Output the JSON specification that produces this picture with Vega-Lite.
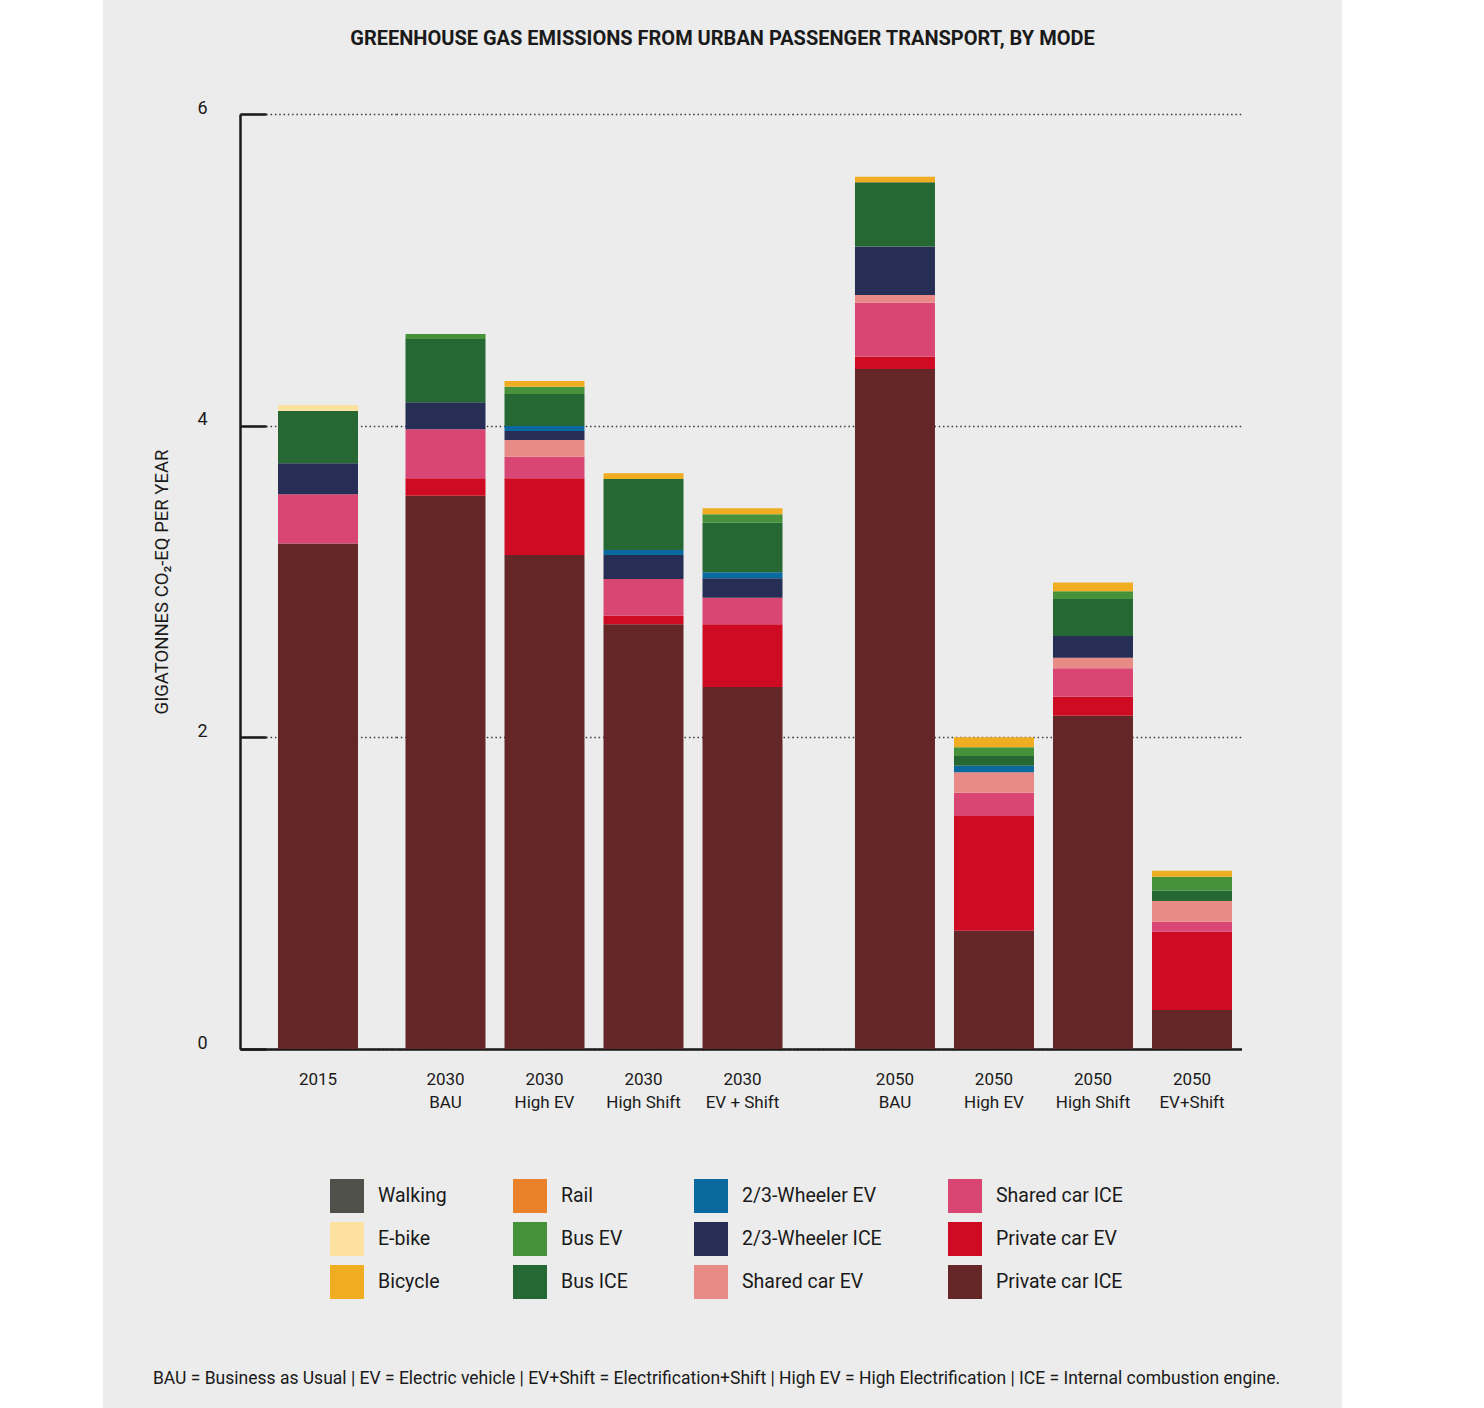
{
  "$schema": "https://vega.github.io/schema/vega-lite/v6.json",
  "background": "#ececec",
  "padding": 0,
  "spacing": 0,
  "columns": 5,
  "align": "none",
  "bounds": "full",
  "datasets": {
    "emissions": [
      {"period": "2015", "scenario": "2015", "mode": "Private car ICE", "value": 3.244},
      {"period": "2015", "scenario": "2015", "mode": "Shared car ICE", "value": 0.316},
      {"period": "2015", "scenario": "2015", "mode": "2/3-Wheeler ICE", "value": 0.199},
      {"period": "2015", "scenario": "2015", "mode": "Bus ICE", "value": 0.335},
      {"period": "2015", "scenario": "2015", "mode": "E-bike", "value": 0.039},

      {"period": "2030", "scenario": "2030|BAU", "mode": "Private car ICE", "value": 3.551},
      {"period": "2030", "scenario": "2030|BAU", "mode": "Private car EV", "value": 0.111},
      {"period": "2030", "scenario": "2030|BAU", "mode": "Shared car ICE", "value": 0.315},
      {"period": "2030", "scenario": "2030|BAU", "mode": "2/3-Wheeler ICE", "value": 0.173},
      {"period": "2030", "scenario": "2030|BAU", "mode": "Bus ICE", "value": 0.406},
      {"period": "2030", "scenario": "2030|BAU", "mode": "Bus EV", "value": 0.032},

      {"period": "2030", "scenario": "2030|High EV", "mode": "Private car ICE", "value": 3.170},
      {"period": "2030", "scenario": "2030|High EV", "mode": "Private car EV", "value": 0.492},
      {"period": "2030", "scenario": "2030|High EV", "mode": "Shared car ICE", "value": 0.139},
      {"period": "2030", "scenario": "2030|High EV", "mode": "Shared car EV", "value": 0.107},
      {"period": "2030", "scenario": "2030|High EV", "mode": "2/3-Wheeler ICE", "value": 0.058},
      {"period": "2030", "scenario": "2030|High EV", "mode": "2/3-Wheeler EV", "value": 0.032},
      {"period": "2030", "scenario": "2030|High EV", "mode": "Bus ICE", "value": 0.205},
      {"period": "2030", "scenario": "2030|High EV", "mode": "Bus EV", "value": 0.047},
      {"period": "2030", "scenario": "2030|High EV", "mode": "Bicycle", "value": 0.037},

      {"period": "2030", "scenario": "2030|High Shift", "mode": "Private car ICE", "value": 2.725},
      {"period": "2030", "scenario": "2030|High Shift", "mode": "Private car EV", "value": 0.056},
      {"period": "2030", "scenario": "2030|High Shift", "mode": "Shared car ICE", "value": 0.235},
      {"period": "2030", "scenario": "2030|High Shift", "mode": "2/3-Wheeler ICE", "value": 0.154},
      {"period": "2030", "scenario": "2030|High Shift", "mode": "2/3-Wheeler EV", "value": 0.032},
      {"period": "2030", "scenario": "2030|High Shift", "mode": "Bus ICE", "value": 0.456},
      {"period": "2030", "scenario": "2030|High Shift", "mode": "Bicycle", "value": 0.036},

      {"period": "2030", "scenario": "2030|EV + Shift", "mode": "Private car ICE", "value": 2.323},
      {"period": "2030", "scenario": "2030|EV + Shift", "mode": "Private car EV", "value": 0.402},
      {"period": "2030", "scenario": "2030|EV + Shift", "mode": "Shared car ICE", "value": 0.171},
      {"period": "2030", "scenario": "2030|EV + Shift", "mode": "2/3-Wheeler ICE", "value": 0.125},
      {"period": "2030", "scenario": "2030|EV + Shift", "mode": "2/3-Wheeler EV", "value": 0.038},
      {"period": "2030", "scenario": "2030|EV + Shift", "mode": "Bus ICE", "value": 0.318},
      {"period": "2030", "scenario": "2030|EV + Shift", "mode": "Bus EV", "value": 0.054},
      {"period": "2030", "scenario": "2030|EV + Shift", "mode": "Bicycle", "value": 0.039},

      {"period": "2050", "scenario": "2050|BAU", "mode": "Private car ICE", "value": 4.364},
      {"period": "2050", "scenario": "2050|BAU", "mode": "Private car EV", "value": 0.079},
      {"period": "2050", "scenario": "2050|BAU", "mode": "Shared car ICE", "value": 0.346},
      {"period": "2050", "scenario": "2050|BAU", "mode": "Shared car EV", "value": 0.050},
      {"period": "2050", "scenario": "2050|BAU", "mode": "2/3-Wheeler ICE", "value": 0.310},
      {"period": "2050", "scenario": "2050|BAU", "mode": "Bus ICE", "value": 0.413},
      {"period": "2050", "scenario": "2050|BAU", "mode": "Bicycle", "value": 0.036},

      {"period": "2050", "scenario": "2050|High EV", "mode": "Private car ICE", "value": 0.759},
      {"period": "2050", "scenario": "2050|High EV", "mode": "Private car EV", "value": 0.736},
      {"period": "2050", "scenario": "2050|High EV", "mode": "Shared car ICE", "value": 0.150},
      {"period": "2050", "scenario": "2050|High EV", "mode": "Shared car EV", "value": 0.131},
      {"period": "2050", "scenario": "2050|High EV", "mode": "2/3-Wheeler EV", "value": 0.042},
      {"period": "2050", "scenario": "2050|High EV", "mode": "Bus ICE", "value": 0.062},
      {"period": "2050", "scenario": "2050|High EV", "mode": "Bus EV", "value": 0.056},
      {"period": "2050", "scenario": "2050|High EV", "mode": "Bicycle", "value": 0.064},

      {"period": "2050", "scenario": "2050|High Shift", "mode": "Private car ICE", "value": 2.139},
      {"period": "2050", "scenario": "2050|High Shift", "mode": "Private car EV", "value": 0.122},
      {"period": "2050", "scenario": "2050|High Shift", "mode": "Shared car ICE", "value": 0.182},
      {"period": "2050", "scenario": "2050|High Shift", "mode": "Shared car EV", "value": 0.068},
      {"period": "2050", "scenario": "2050|High Shift", "mode": "2/3-Wheeler ICE", "value": 0.139},
      {"period": "2050", "scenario": "2050|High Shift", "mode": "Bus ICE", "value": 0.237},
      {"period": "2050", "scenario": "2050|High Shift", "mode": "Bus EV", "value": 0.051},
      {"period": "2050", "scenario": "2050|High Shift", "mode": "Bicycle", "value": 0.056},

      {"period": "2050", "scenario": "2050|EV+Shift", "mode": "Private car ICE", "value": 0.250},
      {"period": "2050", "scenario": "2050|EV+Shift", "mode": "Private car EV", "value": 0.503},
      {"period": "2050", "scenario": "2050|EV+Shift", "mode": "Shared car ICE", "value": 0.064},
      {"period": "2050", "scenario": "2050|EV+Shift", "mode": "Shared car EV", "value": 0.133},
      {"period": "2050", "scenario": "2050|EV+Shift", "mode": "Bus ICE", "value": 0.066},
      {"period": "2050", "scenario": "2050|EV+Shift", "mode": "Bus EV", "value": 0.090},
      {"period": "2050", "scenario": "2050|EV+Shift", "mode": "Bicycle", "value": 0.038}
    ]
  },
  "concat": [
    {
      "width": 103, "height": 1408,
      "data": {"values": [{}]},
      "mark": {"type": "text", "text": "", "fontSize": 0},
      "view": {"fill": "white", "stroke": null}
    },
    {
      "width": 49, "height": 1,
      "data": {"values": [{}]},
      "mark": {"type": "text", "text": "", "fontSize": 0}
    },
    {
      "spacing": 50,
      "vconcat": [
        {
          "width": 965, "height": 1,
          "data": {"values": [{}]},
          "mark": {"type": "text", "text": "", "fontSize": 0},
          "title": {
            "text": "GREENHOUSE GAS EMISSIONS FROM URBAN PASSENGER TRANSPORT, BY MODE",
            "orient": "bottom", "anchor": "middle", "frame": "group", "offset": 28,
            "fontSize": 20, "fontWeight": "bold", "color": "#1a1a1a"
          }
        },
        {
          "title": {
            "text": "BAU = Business as Usual | EV = Electric vehicle | EV+Shift = Electrification+Shift | High EV = High Electrification | ICE = Internal combustion engine.",
            "orient": "bottom", "anchor": "start", "offset": 260,
            "fontSize": 17.5, "fontWeight": "normal", "color": "#1a1a1a"
          },
          "spacing": 0,
          "hconcat": [
            {
              "width": 156, "height": 935,
              "data": {"name": "emissions"},
              "transform": [
                {"filter": "datum.period == '2015'"},
                {"calculate": "indexof(['Private car ICE','Private car EV','Shared car ICE','Shared car EV','2/3-Wheeler ICE','2/3-Wheeler EV','Bus ICE','Bus EV','Rail','Bicycle','E-bike','Walking'], datum.mode)", "as": "stackOrder"}
              ],
              "mark": {"type": "bar", "width": 80},
              "encoding": {
                "x": {
                  "field": "scenario", "type": "nominal", "sort": ["2015"],
                  "scale": {"paddingInner": 0, "paddingOuter": 0},
                  "axis": {"title": null}
                },
                "y": {
                  "field": "value", "type": "quantitative", "stack": "zero",
                  "scale": {"domain": [0, 6], "nice": false},
                  "axis": {
                    "values": [0, 2, 4, 6],
                    "title": "GIGATONNES CO₂-EQ PER YEAR",
                    "titleFontSize": 18.5, "titleFontWeight": "normal", "titlePadding": 25, "titleColor": "#1a1a1a",
                    "labelFontSize": 18, "labelColor": "#1a1a1a", "labelPadding": 59, "labelOffset": -6,
                    "ticks": true, "tickSize": -26, "tickWidth": 2.5, "tickColor": "#1a1a1a",
                    "domain": true, "domainWidth": 2.5, "domainColor": "#1a1a1a",
                    "grid": true, "gridDash": [1.5, 2.8], "gridColor": "#3a3a3a", "gridWidth": 1.4
                  }
                },
                "color": {
                  "field": "mode", "type": "nominal",
                  "scale": {
                    "domain": ["Walking", "E-bike", "Bicycle", "Rail", "Bus EV", "Bus ICE", "2/3-Wheeler EV", "2/3-Wheeler ICE", "Shared car EV", "Shared car ICE", "Private car EV", "Private car ICE"],
                    "range": ["#50514b", "#fde1a0", "#f1ad21", "#e8812a", "#45923b", "#266833", "#0a6aa0", "#262e55", "#e88a86", "#da4673", "#cf0a23", "#652627"]
                  },
                  "legend": {"orient": "none", "legendX": 330, "legendY": 1179}
                },
                "order": {"field": "stackOrder", "type": "quantitative"}
              }
            },
            {
              "width": 396, "height": 935,
              "data": {"name": "emissions"},
              "transform": [
                {"filter": "datum.period == '2030'"},
                {"calculate": "indexof(['Private car ICE','Private car EV','Shared car ICE','Shared car EV','2/3-Wheeler ICE','2/3-Wheeler EV','Bus ICE','Bus EV','Rail','Bicycle','E-bike','Walking'], datum.mode)", "as": "stackOrder"}
              ],
              "mark": {"type": "bar", "width": 80},
              "encoding": {
                "x": {
                  "field": "scenario", "type": "nominal",
                  "sort": ["2030|BAU", "2030|High EV", "2030|High Shift", "2030|EV + Shift"],
                  "scale": {"paddingInner": 0, "paddingOuter": 0},
                  "axis": {"title": null}
                },
                "y": {
                  "field": "value", "type": "quantitative", "stack": "zero",
                  "scale": {"domain": [0, 6], "nice": false},
                  "axis": {
                    "values": [0, 2, 4, 6], "title": null, "labels": false, "ticks": false, "domain": false,
                    "grid": true, "gridDash": [1.5, 2.8], "gridColor": "#3a3a3a", "gridWidth": 1.4
                  }
                },
                "color": {
                  "field": "mode", "type": "nominal",
                  "scale": {
                    "domain": ["Walking", "E-bike", "Bicycle", "Rail", "Bus EV", "Bus ICE", "2/3-Wheeler EV", "2/3-Wheeler ICE", "Shared car EV", "Shared car ICE", "Private car EV", "Private car ICE"],
                    "range": ["#50514b", "#fde1a0", "#f1ad21", "#e8812a", "#45923b", "#266833", "#0a6aa0", "#262e55", "#e88a86", "#da4673", "#cf0a23", "#652627"]
                  },
                  "legend": {"orient": "none", "legendX": 330, "legendY": 1179}
                },
                "order": {"field": "stackOrder", "type": "quantitative"}
              }
            },
            {
              "width": 449.5, "height": 935,
              "data": {"name": "emissions"},
              "transform": [
                {"filter": "datum.period == '2050'"},
                {"calculate": "indexof(['Private car ICE','Private car EV','Shared car ICE','Shared car EV','2/3-Wheeler ICE','2/3-Wheeler EV','Bus ICE','Bus EV','Rail','Bicycle','E-bike','Walking'], datum.mode)", "as": "stackOrder"}
              ],
              "mark": {"type": "bar", "width": 80},
              "encoding": {
                "x": {
                  "field": "scenario", "type": "nominal",
                  "sort": ["2050|BAU", "2050|High EV", "2050|High Shift", "2050|EV+Shift"],
                  "scale": {"paddingInner": 0, "paddingOuter": 0.27, "align": 1},
                  "axis": {"title": null}
                },
                "y": {
                  "field": "value", "type": "quantitative", "stack": "zero",
                  "scale": {"domain": [0, 6], "nice": false},
                  "axis": {
                    "values": [0, 2, 4, 6], "title": null, "labels": false, "ticks": false, "domain": false,
                    "grid": true, "gridDash": [1.5, 2.8], "gridColor": "#3a3a3a", "gridWidth": 1.4
                  }
                },
                "color": {
                  "field": "mode", "type": "nominal",
                  "scale": {
                    "domain": ["Walking", "E-bike", "Bicycle", "Rail", "Bus EV", "Bus ICE", "2/3-Wheeler EV", "2/3-Wheeler ICE", "Shared car EV", "Shared car ICE", "Private car EV", "Private car ICE"],
                    "range": ["#50514b", "#fde1a0", "#f1ad21", "#e8812a", "#45923b", "#266833", "#0a6aa0", "#262e55", "#e88a86", "#da4673", "#cf0a23", "#652627"]
                  },
                  "legend": {"orient": "none", "legendX": 330, "legendY": 1179}
                },
                "order": {"field": "stackOrder", "type": "quantitative"}
              }
            }
          ]
        }
      ]
    },
    {
      "width": 61, "height": 1,
      "data": {"values": [{}]},
      "mark": {"type": "text", "text": "", "fontSize": 0}
    },
    {
      "width": 142, "height": 1408,
      "data": {"values": [{}]},
      "mark": {"type": "text", "text": "", "fontSize": 0},
      "view": {"fill": "white", "stroke": null}
    }
  ],
  "config": {
    "font": "Roboto",
    "view": {"stroke": null},
    "axisX": {
      "labelAngle": 0, "labelFontSize": 17, "labelColor": "#1a1a1a", "labelLineHeight": 23,
      "labelPadding": 22, "labelExpr": "split(datum.label, '|')",
      "ticks": false, "tickSize": 0, "domain": true, "domainWidth": 2.5, "domainColor": "#1a1a1a", "grid": false
    },
    "legend": {
      "title": null, "columns": 4, "symbolType": "square", "symbolSize": 1156, "symbolStrokeWidth": 0,
      "labelFontSize": 19.5, "labelColor": "#1a1a1a", "labelOffset": 14, "columnPadding": 66, "rowPadding": 9,
      "gridAlign": "each", "labelLimit": 400, "padding": 0, "symbolOpacity": 1
    }
  }
}
